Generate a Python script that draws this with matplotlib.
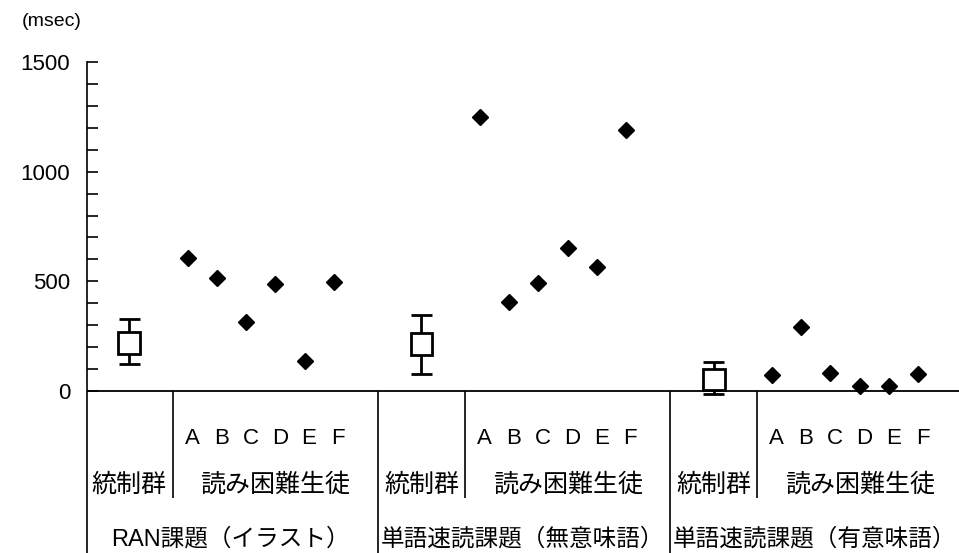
import matplotlib
matplotlib.use("Agg")
import matplotlib.pyplot as plt
from matplotlib.ticker import FixedLocator

plt.rcParams['font.family'] = ['Liberation Sans', 'Noto Sans CJK JP']

# Tasks and group labels
tasks = ["RAN課題（イラスト）", "単語速読課題（無意味語）", "単語速読課題（有意味語）"]
control_label = "統制群"
reader_label = "読み困難生徒"
students = ["A", "B", "C", "D", "E", "F"]

# Control group: box range and whisker range per task (msec)
ctrl_box_lo = [170, 165, 5]
ctrl_box_hi = [270, 263, 99]
ctrl_whisker_lo = [125, 78, -14]
ctrl_whisker_hi = [327, 347, 131]

# Individual students with reading difficulties (msec)
ran_illust = [606, 515, 315, 487, 138, 495]
words_nonsense = [1251, 405, 492, 654, 567, 1192]
words_meaningful = [73, 291, 81, 24, 24, 78]
student_values = [ran_illust, words_nonsense, words_meaningful]

yticks = [0, 500, 1000, 1500]

fig = plt.figure(figsize=(9.59, 5.53), dpi=100)
ax = fig.add_axes([87 / 959, 0.0, 1 - 87 / 959, 1 - 62 / 553])

y_min = -739
ax.set_xlim(-1.45, 28.4)
ax.set_ylim(y_min, 1500)

group_step = 10
for g in range(3):
    x0 = g * group_step
    # control group box with whiskers
    ax.bar(x0, ctrl_box_hi[g] - ctrl_box_lo[g], bottom=ctrl_box_lo[g], width=0.75,
           facecolor="white", edgecolor="black", linewidth=2.0, zorder=3)
    ax.vlines(x0, ctrl_whisker_lo[g], ctrl_box_lo[g], color="black", lw=2.0, zorder=2)
    ax.vlines(x0, ctrl_box_hi[g], ctrl_whisker_hi[g], color="black", lw=2.0, zorder=2)
    ax.hlines([ctrl_whisker_lo[g], ctrl_whisker_hi[g]], x0 - 0.35, x0 + 0.35,
              color="black", lw=2.0, zorder=2)
    # individual students
    xs = [x0 + 2 + k for k in range(len(students))]
    ax.plot(xs, student_values[g], linestyle="none", marker="D", markersize=8.5,
            color="black", zorder=4)

    # table beneath the axis
    for k, s in enumerate(students):
        ax.text(xs[k] + 0.15, -215, s, ha="center", va="center", fontsize=16)
    ax.text(x0, -429, control_label, ha="center", va="center", fontsize=18)
    ax.text((x0 + 1.5 + x0 + 8.5) / 2, -429, reader_label, ha="center", va="center",
            fontsize=18)
    ax.text(x0 + 3.45, -675, tasks[g], ha="center", va="center", fontsize=17)
    ax.vlines(x0 + 1.5, -488, 0, color="black", lw=1.2)
    if g < 2:
        ax.vlines(x0 + 8.5, y_min, 0, color="black", lw=1.2)

ax.axhline(0, color="black", lw=1.3)

for side in ("top", "right", "bottom"):
    ax.spines[side].set_visible(False)
ax.spines["left"].set_linewidth(1.2)

ax.set_xticks([])
ax.yaxis.set_major_locator(FixedLocator(yticks))
ax.yaxis.set_minor_locator(FixedLocator([v for v in range(100, 1500, 100) if v % 500]))
ax.tick_params(axis="y", which="both", direction="in", length=8, width=1.2,
               labelsize=16, pad=12)

fig.text(22 / 959, 1 - 22 / 553, "(msec)", ha="left", va="center", fontsize=14)

fig.savefig("out.png", dpi=100)
